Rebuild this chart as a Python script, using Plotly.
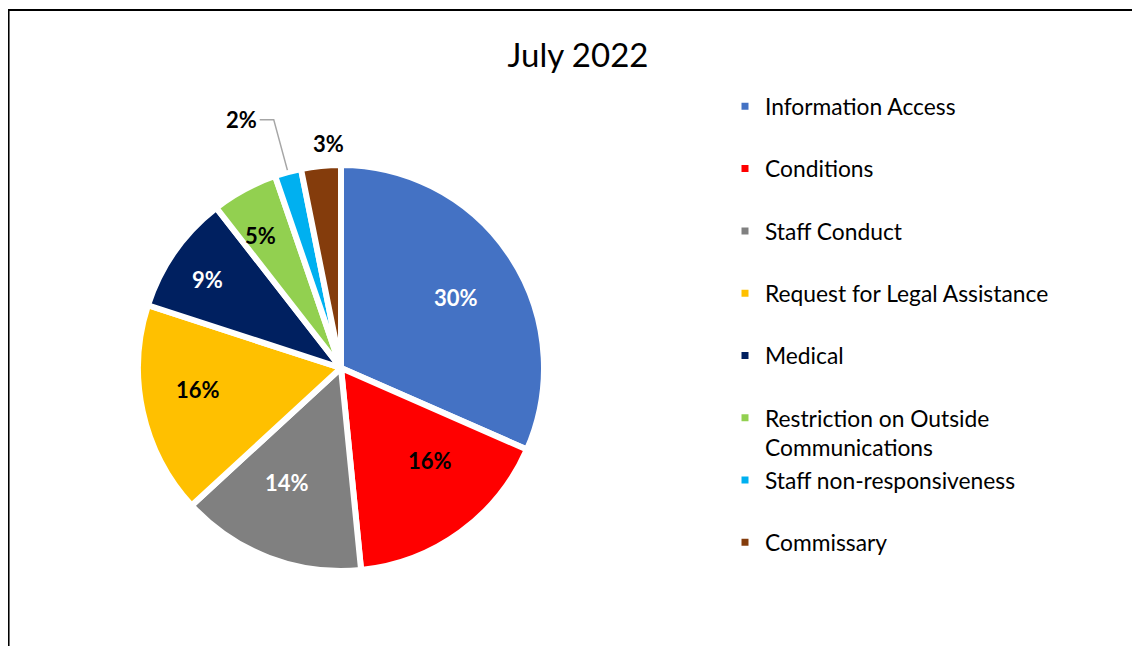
import math
import plotly.graph_objects as go

categories = ["Information Access", "Conditions", "Staff Conduct", "Request for Legal Assistance",
              "Medical", "Restriction on Outside<br>Communications", "Staff non-responsiveness", "Commissary"]
values = [30, 16, 14, 16, 9, 5, 2, 3]
pct_labels = ["30%", "16%", "14%", "16%", "9%", "5%", "2%", "3%"]
colors = ["#4472C4", "#FF0000", "#808080", "#FFC000", "#002060", "#92D050", "#00B0F0", "#843C0C"]
text_colors = ["white", "black", "white", "black", "white", "black", "black", "black"]

# label placement (style): radius fraction from the pie centre and pixel nudges
label_r = [0.67, 0.64, 0.63, 0.73, 0.80, 0.78, 1.28, 1.12]
label_xshift = [2, 13, -9, 0, -2, -6, 0, 10]
label_yshift = [-3, 12, 4, 10, -4, -5, 0, 0]
LEADER_H = 14   # horizontal length of leader line segment (px)

W, H = 1132, 638
CX, CY, R = 333, 360, 203          # pie centre / radius in pixels
R_VIS = 201

legend_labels = [c if "<br>" in c else c + "<br> " for c in categories]

fig = go.Figure(go.Pie(
    labels=legend_labels,
    values=values,
    textinfo="none",
    marker=dict(colors=colors, line=dict(color="white", width=6)),
    sort=False,
    direction="clockwise",
    rotation=0,
    domain=dict(x=[(CX - R) / W, (CX + R) / W], y=[(H - CY - R) / H, (H - CY + R) / H]),
    hovertext=pct_labels,
    hoverinfo="label+text",
))

total = sum(values)
cum = 0
annotations = []
shapes = []
for i, v in enumerate(values):
    theta = math.radians(360 * (cum + v / 2) / total)
    cum += v
    px = CX + label_r[i] * R_VIS * math.sin(theta)
    py = CY - label_r[i] * R_VIS * math.cos(theta)
    font = dict(family="Lato", size=22, color=text_colors[i], weight="bold")
    if label_r[i] > 1.2:
        # leader line: slice edge -> elbow -> short horizontal
        ex = CX + 1.02 * R_VIS * math.sin(theta)
        ey = CY - 1.02 * R_VIS * math.cos(theta)
        hx = px - LEADER_H
        path = f"M {ex / W},{1 - ey / H} L {px / W},{1 - py / H} L {hx / W},{1 - py / H}"
        shapes.append(dict(type="path", xref="paper", yref="paper", path=path,
                           line=dict(color="#A6A6A6", width=1.5)))
        annotations.append(dict(x=(hx - 1) / W, y=1 - py / H, xref="paper", yref="paper",
                                text=pct_labels[i], showarrow=False, xanchor="right",
                                yanchor="middle", xshift=label_xshift[i],
                                yshift=label_yshift[i], font=font))
    else:
        annotations.append(dict(x=px / W, y=1 - py / H, xref="paper", yref="paper",
                                text=pct_labels[i], showarrow=False, xanchor="center",
                                yanchor="middle", xshift=label_xshift[i],
                                yshift=label_yshift[i], font=font))

shapes += [
    dict(type="line", xref="paper", yref="paper", x0=0.0005, x1=0.0005, y0=0, y1=1 - 2 / H,
         line=dict(color="black", width=2)),
    dict(type="line", xref="paper", yref="paper", x0=0, x1=1, y0=1 - 2 / H, y1=1 - 2 / H,
         line=dict(color="black", width=2)),
]

fig.update_layout(
    width=W, height=H,
    margin=dict(l=0, r=0, t=0, b=0),
    paper_bgcolor="white",
    plot_bgcolor="white",
    font=dict(family="Lato", color="black"),
    title=dict(text="July 2022", x=570 / W, xanchor="center", y=1 - 47 / H, yanchor="middle",
               font=dict(size=33, family="Lato", color="black")),
    showlegend=True,
    legend=dict(x=717 / W, xanchor="left", y=1 - 77 / H, yanchor="top", valign="top",
                font=dict(size=22.8, family="Lato", color="black"),
                itemwidth=30, traceorder="normal"),
    annotations=annotations,
    shapes=shapes,
)

fig.write_html("out.html")
